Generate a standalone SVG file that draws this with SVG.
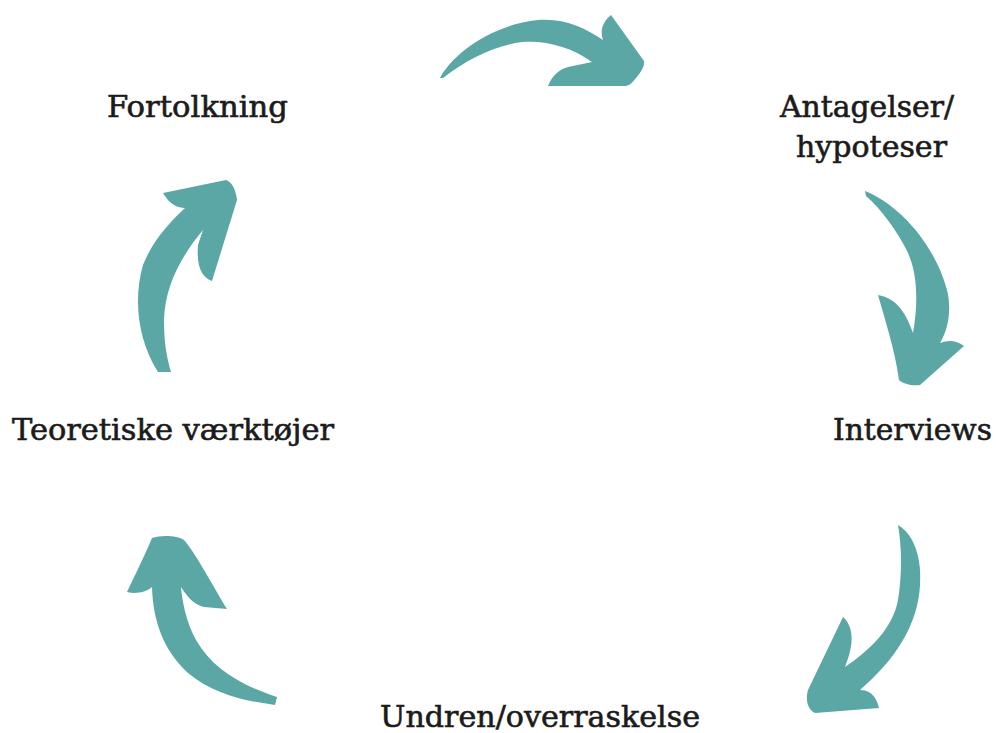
<svg xmlns="http://www.w3.org/2000/svg" width="996" height="733" viewBox="0 0 996 733">
<style>
.lbl{font-family:"DejaVu Serif","Liberation Serif",serif;font-size:29px;fill:#1b1b1b;stroke:#1b1b1b;stroke-width:0.6px;}
.arr{fill:#5aa7a6;}
</style>
<rect width="996" height="733" fill="#ffffff"/>
<g id="connectors">
<path class="arr" d="M440,78 C452,55 490,25 538,20 C565,18 585,28 603,40 C600,32 602,22 611,15 L644,61 C645,66 641,72 636,78 C633,82 630,85 626,86 L548,86 C552,76 558,70 568,67 L592,62 C572,47 545,40 522,42 C498,45 468,58 443,78 Z"/>
<path class="arr" d="M865,191 C900,205 935,245 947,290 C952,310 948,330 940,343 C948,340 956,340 964,346 L920,385 C912,386 903,384 899,380 C895,350 885,320 878,295 C895,298 905,310 913,333 C918,305 918,275 908,253 C898,232 882,210 866,196 Z"/>
<path class="arr" d="M898,525 C915,535 922,560 920,585 C918,625 895,660 860,690 C868,690 876,694 879,708 L815,713 C808,710 805,700 808,690 L843,617 C852,625 856,640 845,667 C870,650 893,628 898,600 C902,575 902,548 898,525 Z"/>
<path class="arr" d="M277,697 C240,685 212,668 196,640 C186,622 182,600 181,587 C188,598 195,605 204,607 L227,609 C215,590 197,555 184,540 C177,535 160,535 152,538 C145,555 135,575 127,592 C135,594 145,593 152,587 C153,620 163,650 188,673 C213,694 245,701 275,705 Z"/>
<path class="arr" d="M158,372 C138,340 133,300 143,265 C153,240 170,222 185,208 C178,208 170,205 163,193 L226,180 C232,182 236,190 237,200 L212,281 C203,278 196,268 198,245 L203,230 C182,255 165,285 164,320 C164,340 166,355 171,372 Z"/>
</g>
<g id="node-fortolkning"><text class="lbl" x="107" y="117" textLength="181" lengthAdjust="spacingAndGlyphs">Fortolkning</text></g>
<g id="node-antagelser"><text class="lbl" x="780" y="117" textLength="174" lengthAdjust="spacingAndGlyphs">Antagelser/</text><text class="lbl" x="796" y="157" textLength="151" lengthAdjust="spacingAndGlyphs">hypoteser</text></g>
<g id="node-interviews"><text class="lbl" x="833" y="440" textLength="159" lengthAdjust="spacingAndGlyphs">Interviews</text></g>
<g id="node-undren"><text class="lbl" x="380" y="727" textLength="320" lengthAdjust="spacingAndGlyphs">Undren/overraskelse</text></g>
<g id="node-teoretiske"><text class="lbl" x="12" y="440" textLength="322" lengthAdjust="spacingAndGlyphs">Teoretiske værktøjer</text></g>
</svg>
